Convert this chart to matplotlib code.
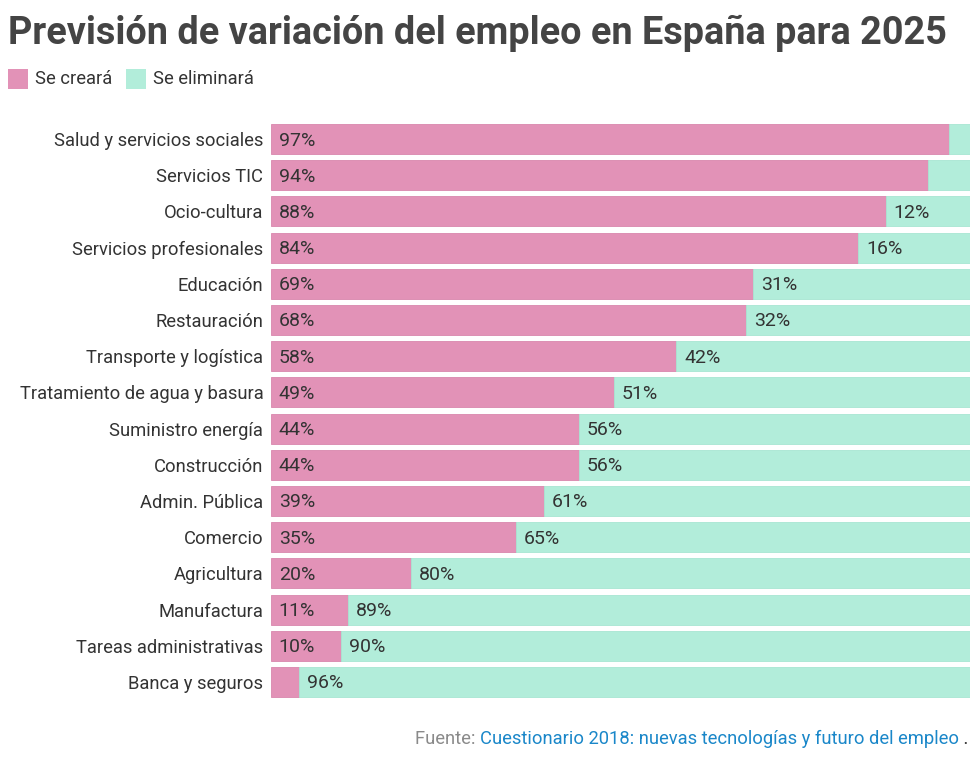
import matplotlib.pyplot as plt
from matplotlib.patches import Rectangle

plt.rcParams['font.family'] = ['Roboto', 'DejaVu Sans']

sectores = ['Salud y servicios sociales', 'Servicios TIC', 'Ocio-cultura',
            'Servicios profesionales', 'Educación', 'Restauración',
            'Transporte y logística', 'Tratamiento de agua y basura',
            'Suministro energía', 'Construcción', 'Admin. Pública', 'Comercio',
            'Agricultura', 'Manufactura', 'Tareas administrativas',
            'Banca y seguros']
se_creara = [97, 94, 88, 84, 69, 68, 58, 49, 44, 44, 39, 35, 20, 11, 10, 4]
se_eliminara = [3, 6, 12, 16, 31, 32, 42, 51, 56, 56, 61, 65, 80, 89, 90, 96]

c_crea = '#e292b7'
c_elim = '#b2edda'
txt = '#333333'

W, H = 980, 774
fig = plt.figure(figsize=(W / 100, H / 100), dpi=100)
ax = fig.add_axes([271 / W, 1 - 700 / H, 699 / W, 579 / H])

y = list(range(len(sectores)))
ax.barh(y, se_creara, height=0.83, color=c_crea, edgecolor='#d987ad', linewidth=0.6)
ax.barh(y, se_eliminara, left=se_creara, height=0.83, color=c_elim,
        edgecolor='#a8e6d2', linewidth=0.6)

for i in y:
    if se_creara[i] >= 10:
        ax.text(1.1, i + 0.04, f'{se_creara[i]}%', va='center', ha='left',
                fontsize=14, color=txt)
    if se_eliminara[i] >= 10:
        ax.text(se_creara[i] + 1.1, i + 0.04, f'{se_eliminara[i]}%', va='center',
                ha='left', fontsize=14, color=txt)

ax.set_xlim(0, 100)
ax.set_ylim(len(sectores) - 0.5, -0.5)
ax.set_yticks(y)
ax.set_yticklabels(sectores, fontsize=13.2, color=txt)
ax.tick_params(axis='y', length=0, pad=5.5)
ax.set_xticks([])
for s in ax.spines.values():
    s.set_visible(False)

fig.text(8 / W, 1 - 33 / H, 'Previsión de variación del empleo en España para 2025',
         fontsize=27.3, fontweight='bold', color='#444444', va='center', ha='left')

# leyenda
fig.patches.append(Rectangle((8 / W, 1 - 89 / H), 20 / W, 20 / H, transform=fig.transFigure,
                             facecolor=c_crea, edgecolor='none'))
fig.text(35 / W, 1 - 79 / H, 'Se creará', fontsize=13.2, color=txt, va='center')
fig.patches.append(Rectangle((126 / W, 1 - 89 / H), 20 / W, 20 / H, transform=fig.transFigure,
                             facecolor=c_elim, edgecolor='none'))
fig.text(153 / W, 1 - 79 / H, 'Se eliminará', fontsize=13.2, color=txt, va='center')

# fuente, encadenada de derecha a izquierda
r = fig.canvas.get_renderer()
x = 968 / W
for s, col in [(' .', '#333333'),
               ('Cuestionario 2018: nuevas tecnologías y futuro del empleo', '#1a87c9'),
               ('Fuente: ', '#8a8a8a')]:
    t = fig.text(x, 1 - 739 / H, s, fontsize=13.2, color=col, ha='right', va='center')
    x -= t.get_window_extent(r).width / W

fig.savefig('out.png', dpi=100)
